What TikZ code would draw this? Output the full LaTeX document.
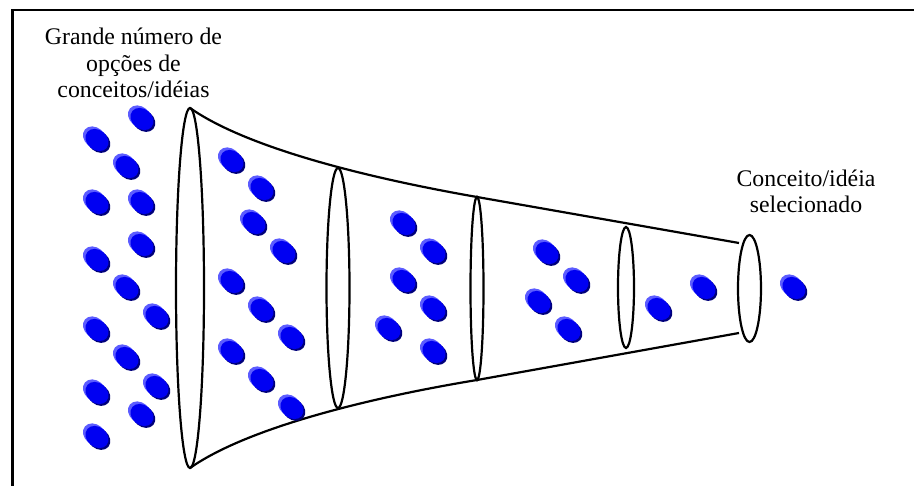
\documentclass[tikz,border=0pt]{standalone}
\usepackage{fontspec}
\setmainfont{Liberation Serif}
\definecolor{dotlight}{HTML}{5C5CFF}
\definecolor{dotmain}{HTML}{0000F2}
\definecolor{dotdark}{HTML}{00007A}
\tikzset{
  funnel/.style={line width=2.2pt, draw=black},
  frameline/.style={line width=2.4pt, draw=black},
  lbl/.style={font=\fontsize{23.8}{26.5}\selectfont, align=center, inner sep=0pt, anchor=base},
  dot/.pic={
    \fill[dotlight, shift={(-2.5,-2.5)}, rotate=-40] (0,0) ellipse [x radius=12.5pt, y radius=10pt];
    \fill[dotdark, shift={(1.8,1.8)}, rotate=-40] (0,0) ellipse [x radius=12.5pt, y radius=10pt];
    \fill[dotmain, rotate=-40] (0,0) ellipse [x radius=12.5pt, y radius=10pt];
  }
}
\begin{document}
\begin{tikzpicture}[x=1pt,y=-1pt]
\useasboundingbox (0,0) rectangle (914,486);
% frame
\draw[frameline] (12.5,486) -- (12.5,10) -- (914,10);
% labels (base anchor = last line's baseline)
\node[lbl] (big) at (133.5,98) {Grande número de\\opções de\\conceitos/idéias};
\node[lbl] (sel) at (806,213) {Conceito/idéia\\selecionado};
% funnel outline
\draw[funnel] (190,108) .. controls (250,150) and (377,179.5) .. (477,197) -- (739,243);
\draw[funnel] (190,468) .. controls (250,426) and (377,396.5) .. (477,380) -- (739,333);
% rings
\draw[funnel] (190,288) ellipse [x radius=14pt, y radius=180pt];
\draw[funnel] (338,288) ellipse [x radius=11.5pt, y radius=120pt];
\draw[funnel] (477,288.5) ellipse [x radius=6.5pt, y radius=91.5pt];
\draw[funnel] (626,287.5) ellipse [x radius=8pt, y radius=60.5pt];
\draw[funnel] (749.5,288.5) ellipse [x radius=11.5pt, y radius=53.5pt];
% dots: many options
\foreach \p in {(142,119),(97,140),(127,167),(97,203),(142,203),(142,245),(97,260),
  (127,288),(157,317),(97,330),(127,358),(157,387),(97,393),(142,415),(97,437)}
  \pic at \p {dot};
\foreach \p in {(232,161),(262,189),(254,223),(284,252),(232,282),(262,310),(292,338),
  (232,352),(262,380),(292,408)}
  \pic at \p {dot};
\foreach \p in {(404,224),(434,252),(404,281),(434,309),(389,329),(434,352)}
  \pic at \p {dot};
\foreach \p in {(547,253),(577,281),(539,302),(569,330)}
  \pic at \p {dot};
\foreach \p in {(659,309),(704,288),(794,288)}
  \pic at \p {dot};
\end{tikzpicture}
\end{document}
